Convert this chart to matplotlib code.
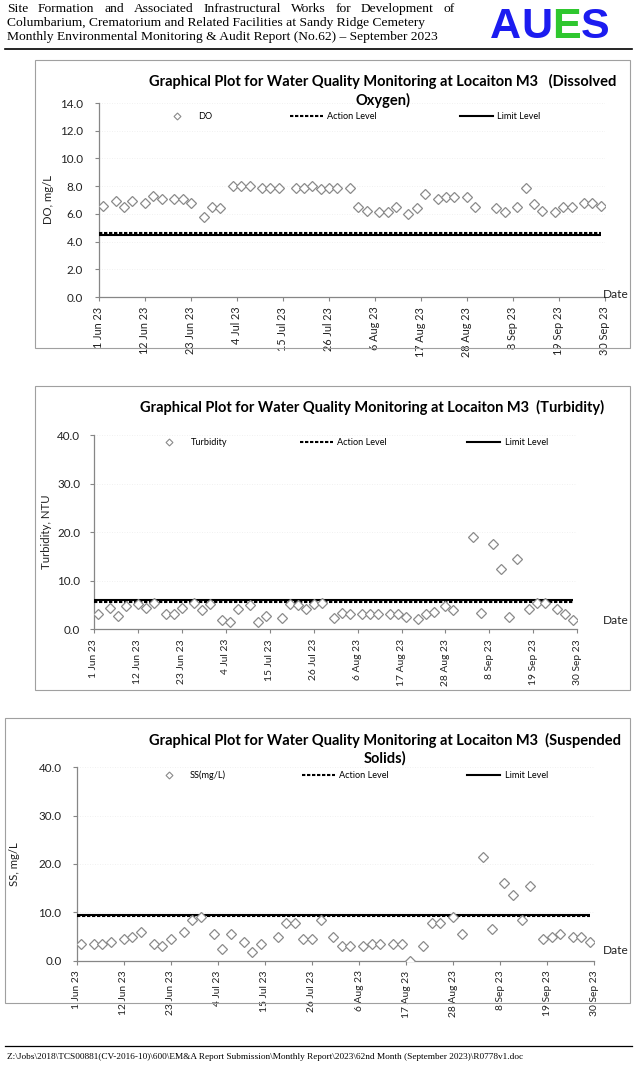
import matplotlib
matplotlib.use("Agg")
import matplotlib.pyplot as plt
import pandas as pd
from matplotlib.lines import Line2D
from matplotlib.patches import Rectangle
from matplotlib.legend import Legend

# ===== DATA =====
sample_dates = [
    "2023-06-02", "2023-06-05", "2023-06-07", "2023-06-09", "2023-06-12", "2023-06-14",
    "2023-06-16", "2023-06-19", "2023-06-21", "2023-06-23", "2023-06-26", "2023-06-28",
    "2023-06-30", "2023-07-03", "2023-07-05", "2023-07-07", "2023-07-10", "2023-07-12",
    "2023-07-14", "2023-07-18", "2023-07-20", "2023-07-22", "2023-07-24", "2023-07-26",
    "2023-07-28", "2023-07-31", "2023-08-02", "2023-08-04", "2023-08-07", "2023-08-09",
    "2023-08-11", "2023-08-14", "2023-08-16", "2023-08-18", "2023-08-21", "2023-08-23",
    "2023-08-25", "2023-08-28", "2023-08-30", "2023-09-04", "2023-09-06", "2023-09-09",
    "2023-09-11", "2023-09-13", "2023-09-15", "2023-09-18", "2023-09-20", "2023-09-22",
    "2023-09-25", "2023-09-27", "2023-09-29",
]

do_values = [
    6.6, 6.9, 6.5, 6.9, 6.8, 7.3, 7.1, 7.1, 7.1, 6.8,
    5.8, 6.5, 6.4, 8.0, 8.0, 8.0, 7.9, 7.9, 7.9, 7.9,
    7.9, 8.0, 7.8, 7.9, 7.9, 7.9, 6.5, 6.2, 6.1, 6.1,
    6.5, 6.0, 6.4, 7.4, 7.1, 7.2, 7.2, 7.2, 6.5, 6.4,
    6.1, 6.5, 7.9, 6.7, 6.2, 6.1, 6.5, 6.5, 6.8, 6.8,
    6.6,
]

turbidity_values = [
    3.2, 4.3, 2.7, 4.8, 5.2, 4.3, 5.4, 3.2, 3.1, 4.3,
    5.4, 4.0, 5.3, 2.0, 1.4, 4.1, 4.9, 1.4, 2.7, 2.4,
    5.2, 5.0, 4.1, 5.2, 5.4, 2.4, 3.3, 3.2, 3.2, 3.2,
    3.2, 3.2, 3.2, 2.5, 2.1, 3.2, 3.6, 4.8, 4.0, 19.1,
    3.4, 17.6, 12.5, 2.5, 14.4, 4.2, 5.4, 5.4, 4.2, 3.2,
    2.0,
]

ss_values = [
    3.5, 3.5, 3.5, 3.9, 4.5, 5.0, 5.9, 3.5, 3.0, 4.5,
    5.9, 8.4, 9.0, 5.5, 2.5, 5.5, 3.9, 1.9, 3.5, 5.0,
    7.9, 7.9, 4.5, 4.5, 8.4, 5.0, 3.0, 3.0, 3.0, 3.5,
    3.5, 3.5, 3.5, 0.0, 3.0, 7.9, 7.9, 9.0, 5.5, 21.5,
    6.5, 16.0, 13.5, 8.4, 15.5, 4.5, 5.0, 5.5, 5.0, 5.0,
    3.9,
]

# Action / Limit levels
do_action, do_limit = 4.6, 4.5
turbidity_action, turbidity_limit = 5.7, 6.0
ss_action, ss_limit = 9.3, 9.5

tick_dates = ["2023-06-01", "2023-06-12", "2023-06-23", "2023-07-04", "2023-07-15",
              "2023-07-26", "2023-08-06", "2023-08-17", "2023-08-28", "2023-09-08",
              "2023-09-19", "2023-09-30"]
tick_labels = ["1 Jun 23", "12 Jun 23", "23 Jun 23", "4 Jul 23", "15 Jul 23", "26 Jul 23",
               "6 Aug 23", "17 Aug 23", "28 Aug 23", "8 Sep 23", "19 Sep 23", "30 Sep 23"]

header_lines = [
    "Site Formation and Associated Infrastructural Works for Development of",
    "Columbarium, Crematorium and Related Facilities at Sandy Ridge Cemetery",
    "Monthly Environmental Monitoring & Audit Report (No.62) \u2013 September 2023",
]
footer_text = r"Z:\Jobs\2018\TCS00881(CV-2016-10)\600\EM&A Report Submission\Monthly Report\2023\62nd Month (September 2023)\R0778v1.doc"

# ===== FIGURE =====
W, H = 640, 1065
fig = plt.figure(figsize=(W / 100, H / 100), dpi=100)
fig.patch.set_facecolor("white")

SANS = ["Lato", "DejaVu Sans"]
SERIF = ["Liberation Serif", "DejaVu Serif"]
GRAY = "#868686"
MARKER_EDGE = "#8a8a8a"

dates = pd.to_datetime(sample_dates)
ticks = pd.to_datetime(tick_dates)


def fx(x):
    return x / W


def fy(y):
    return 1 - y / H


def place_sequence(pieces, x_left, y, x_right=None, colors=None, **kw):
    # place words/letters one after another (justified if x_right given)
    texts = []
    for i, p in enumerate(pieces):
        c = colors[i] if colors else "black"
        texts.append(fig.text(0, fy(y), p, color=c, va="baseline", ha="left", **kw))
    fig.canvas.draw()
    r = fig.canvas.get_renderer()
    widths = [t.get_window_extent(r).width for t in texts]
    gap = 0
    if x_right is not None and len(pieces) > 1:
        gap = (x_right - x_left - sum(widths)) / (len(pieces) - 1)
    x = x_left
    for t, w in zip(texts, widths):
        t.set_x(fx(x))
        x += w + gap


# ===== HEADER =====
place_sequence(header_lines[0].split(" "), 7, 12, x_right=455, fontsize=9.7, family=SERIF)
fig.text(fx(7), fy(26), header_lines[1], fontsize=9.7, family=SERIF, va="baseline")
fig.text(fx(7), fy(40), header_lines[2], fontsize=9.7, family=SERIF, va="baseline")
place_sequence(list("AUES"), 490, 38, colors=["#1c1cf0", "#1c1cf0", "#2fc72f", "#1c1cf0"],
               fontsize=31, family=["Liberation Sans", "DejaVu Sans"], weight="bold")
fig.add_artist(Line2D([fx(5), fx(632)], [fy(48.5), fy(48.5)], color="black", lw=1.2))

# ===== FOOTER =====
fig.add_artist(Line2D([fx(5), fx(632)], [fy(1046), fy(1046)], color="black", lw=0.9))
fig.text(fx(7), fy(1059), footer_text, fontsize=6.7, family=SERIF, va="baseline")


# ===== ONE CHART =====
def draw_chart(box, axes_px, values, action, limit, ylim, ystep, ylabel, series_label,
               title, title_xy, ylabel_x, legend_x, legend_y, date_y, ypad, xfont):
    # chart frame
    bx0, by0, bx1, by1 = box
    fig.patches.append(Rectangle((fx(bx0), fy(by1)), fx(bx1 - bx0), (by1 - by0) / H,
                                 transform=fig.transFigure, fill=False,
                                 edgecolor="#a0a0a0", lw=0.8))

    x0, y_top, x1, y_bot = axes_px
    ax = fig.add_axes([fx(x0), fy(y_bot), fx(x1 - x0), (y_bot - y_top) / H])
    ax.set_facecolor("none")

    # data points
    ax.plot(dates, values, ls="none", marker="D", ms=5, mfc="white", mec=MARKER_EDGE,
            mew=0.9, zorder=4)
    # action and limit levels
    ax.hlines(action, ticks[0], dates[-1], colors="black", linestyles=(0, (1.6, 0.8)),
              lw=1.5, zorder=3)
    ax.hlines(limit, ticks[0], dates[-1], colors="black", linestyles="solid", lw=1.5, zorder=3)

    ax.set_xlim(ticks[0], ticks[-1])
    ax.set_ylim(*ylim)
    yt = [ylim[0] + i * ystep for i in range(int(round((ylim[1] - ylim[0]) / ystep)) + 1)]
    ax.set_yticks(yt)
    ax.set_yticklabels(["%.1f" % v for v in yt], family=SANS, fontsize=8.4)
    ax.set_xticks(ticks)
    ax.set_xticklabels(tick_labels, rotation=90, family=SANS, fontsize=xfont)

    for s in ["top", "right"]:
        ax.spines[s].set_visible(False)
    for s in ["left", "bottom"]:
        ax.spines[s].set_color(GRAY)
        ax.spines[s].set_linewidth(0.9)
    ax.tick_params(axis="y", length=3, width=0.8, color=GRAY, pad=ypad, labelcolor="#222222")
    ax.tick_params(axis="x", length=3, width=0.8, color=GRAY, pad=4, labelcolor="#222222")
    ax.yaxis.grid(True, color="#ececec", ls=(0, (1, 2)), lw=0.6)
    ax.set_axisbelow(True)

    # separate legend entries, like the Excel layout
    handles = [
        Line2D([], [], ls="none", marker="D", ms=3.5, mfc="white", mec=MARKER_EDGE, mew=0.8),
        Line2D([], [], color="black", ls=(0, (1.6, 0.8)), lw=1.5),
        Line2D([], [], color="black", lw=1.5),
    ]
    labels = [series_label, "Action Level", "Limit Level"]
    for h, lab, lx in zip(handles, labels, legend_x):
        leg = Legend(ax, [h], [lab], loc="center left", bbox_to_anchor=(lx, legend_y),
                     frameon=False, handlelength=3.6, handletextpad=0.5, borderpad=0,
                     borderaxespad=0, prop={"family": SANS, "size": 6.6})
        ax.add_artist(leg)

    # texts
    fig.text(fx(title_xy[0]), fy(title_xy[1]), title, ha="center", va="center",
             family=SANS, weight="bold", fontsize=10.5, linespacing=1.25)
    fig.text(fx(ylabel_x), fy((y_top + y_bot) / 2), ylabel, rotation=90, ha="center",
             va="center", family=SANS, fontsize=8.2, color="#222222")
    fig.text(fx(603), fy(date_y), "Date", ha="left", va="center", family=SANS,
             fontsize=8.6, color="#222222")
    return ax


draw_chart(box=(35, 60, 630, 348), axes_px=(99, 103, 605, 297), values=do_values,
           action=do_action, limit=do_limit, ylim=(0, 14), ystep=2,
           ylabel="DO, mg/L", series_label="DO",
           title="Graphical Plot for Water Quality Monitoring at Locaiton M3   (Dissolved\nOxygen)",
           title_xy=(383, 91), ylabel_x=48, legend_x=(0.121, 0.377, 0.713), legend_y=0.929,
           date_y=294, ypad=8.7, xfont=7.8)

draw_chart(box=(35, 386, 630, 690), axes_px=(94, 435, 577.3, 629.3), values=turbidity_values,
           action=turbidity_action, limit=turbidity_limit, ylim=(0, 40), ystep=10,
           ylabel="Turbidity, NTU", series_label="Turbidity",
           title="Graphical Plot for Water Quality Monitoring at Locaiton M3  (Turbidity)",
           title_xy=(372, 407), ylabel_x=46, legend_x=(0.122, 0.426, 0.772), legend_y=0.959,
           date_y=620, ypad=7.0, xfont=7.4)

draw_chart(box=(5, 718, 630, 1003), axes_px=(76.7, 767.3, 594.3, 960.7), values=ss_values,
           action=ss_action, limit=ss_limit, ylim=(0, 40), ystep=10,
           ylabel="SS, mg/L", series_label="SS(mg/L)",
           title="Graphical Plot for Water Quality Monitoring at Locaiton M3  (Suspended\nSolids)",
           title_xy=(385, 749), ylabel_x=14, legend_x=(0.146, 0.435, 0.755), legend_y=0.957,
           date_y=951, ypad=8.0, xfont=7.4)

fig.savefig("out.png", dpi=100)
